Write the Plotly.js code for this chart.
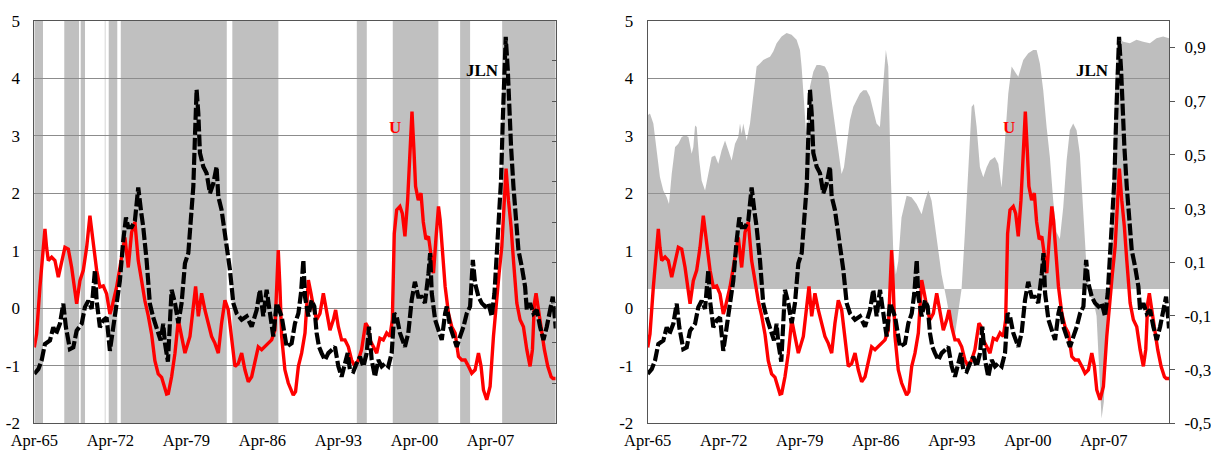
<!DOCTYPE html>
<html>
<head>
<meta charset="utf-8">
<script src="https://cdn.plot.ly/plotly-3.0.1.min.js"></script>
<style>html,body{margin:0;padding:0;background:#fff;}#chart{width:1211px;height:453px;}</style>
</head>
<body>
<div id="chart"></div>
<script>
// ---- data (decimal years; Apr-65 = 1965.25) ----
var uYears = [1965.25,1965.46,1965.77,1966.23,1966.38,1966.54,1966.85,1967.15,1967.46,1967.77,1968.07,1968.38,1968.69,1969.15,1969.45,1969.76,1970.07,1970.37,1970.68,1970.99,1971.29,1971.6,1971.91,1972.21,1972.37,1972.83,1973.13,1973.59,1973.9,1974.21,1974.51,1974.82,1975.13,1975.43,1975.74,1976.05,1976.35,1976.66,1976.97,1977.43,1977.59,1977.89,1978.2,1978.51,1978.81,1979.12,1979.58,1979.89,1980.1,1980.35,1980.65,1980.96,1981.27,1981.57,1981.88,1982.19,1982.49,1982.8,1983.11,1983.41,1983.72,1984.03,1984.34,1984.64,1984.95,1985.26,1985.56,1985.87,1986.18,1986.48,1986.79,1987.1,1987.4,1987.71,1987.86,1988.02,1988.32,1988.63,1989.09,1989.3,1989.56,1989.86,1990.17,1990.48,1990.72,1990.94,1991.24,1991.55,1991.86,1992.16,1992.47,1992.78,1992.99,1993.24,1993.54,1993.85,1994.16,1994.46,1994.77,1995.08,1995.38,1995.75,1995.94,1996.15,1996.46,1996.77,1997.07,1997.38,1997.69,1997.99,1998.21,1998.39,1998.61,1998.91,1999.13,1999.37,1999.62,1999.83,2000.02,2000.2,2000.35,2000.6,2000.85,2001.06,2001.3,2001.54,2001.78,2002.0,2002.24,2002.46,2002.61,2002.83,2003.07,2003.38,2003.68,2003.99,2004.3,2004.6,2004.91,2005.22,2005.52,2005.83,2006.14,2006.38,2006.6,2006.9,2007.21,2007.52,2007.83,2008.04,2008.29,2008.53,2008.68,2008.9,2009.14,2009.36,2009.67,2009.97,2010.28,2010.59,2010.89,2011.11,2011.29,2011.44,2011.66,2011.9,2012.21,2012.52,2012.83,2013.0,2013.25];
var uValues = [-0.68,-0.45,0.37,1.38,1.06,0.83,0.89,0.83,0.54,0.83,1.06,1.03,0.71,0.08,0.48,0.66,1.06,1.61,1.18,0.66,0.37,0.39,0.25,-0.10,0.0,0.37,0.71,1.23,0.71,1.32,1.50,0.83,0.48,0.13,-0.13,-0.45,-0.91,-1.14,-1.2,-1.49,-1.48,-1.19,-0.78,-0.20,-0.49,-0.78,-0.49,-0.03,0.38,-0.14,0.26,-0.03,-0.26,-0.49,-0.61,-0.78,-0.26,0.14,-0.03,-0.49,-1.01,-0.96,-0.78,-1.07,-1.28,-1.19,-0.96,-0.67,-0.72,-0.67,-0.61,-0.55,-0.38,1.01,0.38,-0.49,-1.07,-1.30,-1.51,-1.45,-1.01,-0.78,-0.43,0.49,0.26,0.03,-0.20,-0.09,0.26,-0.09,-0.38,-0.20,-0.03,-0.32,-0.55,-0.55,-0.67,-0.90,-1.01,-0.90,-0.72,-0.26,-0.32,-0.55,-0.67,-0.78,-0.52,-0.55,-0.43,-0.49,-0.20,1.30,1.71,1.77,1.65,1.25,1.88,2.75,3.42,2.75,2.12,1.88,2.00,1.5,1.2,1.25,0.96,0.61,1.25,1.77,1.54,0.96,0.38,-0.09,-0.32,-0.43,-0.84,-0.90,-0.90,-1.01,-1.13,-1.07,-0.78,-1.01,-1.42,-1.59,-1.36,-0.49,0.26,0.61,1.07,1.94,2.43,1.88,1.42,0.84,0.09,-0.20,-0.32,-0.72,-1.01,-0.72,0.09,0.26,-0.03,-0.38,-0.72,-1.01,-1.19,-1.22,-1.22];

var jlnYears = [1965.25,1965.62,1965.92,1966.23,1966.69,1967.0,1967.24,1967.61,1967.92,1968.16,1968.53,1968.84,1969.15,1969.61,1969.91,1970.22,1970.53,1970.83,1970.99,1971.29,1971.6,1971.91,1972.21,1972.52,1972.83,1973.13,1973.44,1973.69,1973.9,1974.21,1974.51,1974.82,1975.07,1975.28,1975.59,1975.89,1976.2,1976.51,1976.88,1977.12,1977.28,1977.55,1977.89,1978.2,1978.51,1978.81,1978.97,1979.12,1979.43,1979.58,1979.89,1980.04,1980.19,1980.35,1980.5,1980.81,1981.11,1981.42,1981.73,1982.03,1982.19,1982.49,1982.8,1982.95,1983.26,1983.57,1983.88,1984.34,1984.8,1985.26,1985.72,1986.02,1986.33,1986.64,1986.94,1987.25,1987.56,1988.02,1988.48,1988.94,1989.25,1989.56,1989.8,1990.02,1990.17,1990.48,1990.78,1991.03,1991.24,1991.46,1991.7,1992.01,1992.32,1992.62,1992.93,1993.24,1993.54,1993.85,1994.1,1994.31,1994.62,1994.92,1995.23,1995.54,1995.85,1996.06,1996.31,1996.61,1996.92,1997.23,1997.53,1997.84,1998.15,1998.39,1998.61,1998.91,1999.37,1999.68,1999.99,2000.29,2000.6,2000.91,2001.21,2001.54,2001.69,2001.84,2002.15,2002.46,2002.76,2003.07,2003.22,2003.53,2003.84,2004.14,2004.45,2004.76,2005.06,2005.37,2005.62,2005.83,2006.14,2006.44,2006.75,2007.06,2007.36,2007.61,2007.83,2008.04,2008.22,2008.38,2008.53,2008.65,2008.84,2008.96,2009.14,2009.36,2009.57,2009.82,2010.13,2010.43,2010.59,2010.89,2011.2,2011.51,2011.81,2012.12,2012.43,2012.73,2012.98,2013.19,2013.25];
var jlnValues = [-1.14,-1.06,-0.91,-0.62,-0.56,-0.33,-0.45,-0.27,0.08,-0.33,-0.71,-0.68,-0.39,-0.27,0.02,0.13,-0.01,0.66,0.13,-0.33,-0.21,-0.16,-0.74,-0.33,0.13,0.48,1.18,1.58,1.41,1.41,1.52,2.10,1.70,1.41,0.83,0.08,-0.16,-0.33,-0.56,-0.27,-0.61,-0.93,0.32,0.09,-0.26,0.09,0.55,0.78,0.96,1.36,2.12,2.99,3.80,3.39,2.70,2.46,2.35,2.00,2.17,2.46,1.94,1.71,1.30,1.19,0.67,0.09,-0.09,-0.20,-0.14,-0.32,-0.03,0.32,-0.14,0.32,-0.14,-0.49,0.09,-0.14,-0.67,-0.61,-0.26,-0.09,0.26,0.84,0.20,-0.14,0.14,0.03,-0.43,-0.67,-0.78,-0.90,-0.78,-0.72,-0.67,-1.01,-1.19,-0.96,-0.78,-1.07,-1.10,-0.96,-0.84,-1.01,-0.78,-0.32,-0.90,-1.19,-0.90,-1.01,-0.96,-1.01,-0.78,-0.09,-0.14,-0.43,-0.67,-0.43,0.14,0.46,0.20,0.20,0.09,0.61,0.96,0.26,-0.20,-0.38,-0.55,-0.09,0.03,-0.32,-0.49,-0.67,-0.49,-0.32,-0.09,0.03,0.84,0.43,0.20,0.09,0.03,0.09,-0.14,0.26,0.96,1.54,2.23,3.28,4.14,4.72,4.14,3.51,2.81,2.12,1.54,1.01,0.72,0.38,-0.03,0.09,-0.09,-0.03,-0.32,-0.55,-0.32,-0.03,0.20,-0.20,-0.35];

var probYears = [1965.25,1965.46,1965.77,1966.08,1966.38,1966.69,1967.0,1967.21,1967.46,1967.77,1968.07,1968.38,1968.69,1969.0,1969.3,1969.45,1969.61,1969.76,1970.0,1970.22,1970.53,1970.83,1971.14,1971.45,1971.75,1972.06,1972.37,1972.67,1972.98,1973.29,1973.59,1973.75,1973.9,1974.05,1974.36,1974.67,1974.97,1975.28,1975.59,1975.89,1976.2,1976.51,1976.81,1977.12,1977.58,1978.04,1978.5,1978.96,1979.27,1979.42,1979.64,1979.88,1980.19,1980.5,1980.8,1981.11,1981.57,1981.88,1982.18,1982.49,1982.8,1983.1,1983.32,1983.56,1983.87,1984.18,1984.48,1984.79,1985.1,1985.4,1985.71,1986.02,1986.32,1986.63,1986.94,1987.18,1987.4,1987.61,1987.86,1988.1,1988.32,1988.62,1989.09,1989.55,1990.01,1990.47,1990.78,1991.09,1991.39,1991.7,1992.01,1992.31,1992.77,1993.08,1993.54,1994.15,1994.46,1994.77,1995.08,1995.29,1995.54,1995.84,1996.15,1996.46,1996.76,1997.22,1997.53,1997.84,1998.14,1998.45,1998.76,1999.06,1999.37,1999.83,2000.29,2000.75,2001.06,2001.36,2001.67,2001.98,2002.28,2002.59,2002.9,2003.2,2003.51,2003.82,2004.12,2004.43,2004.74,2005.04,2005.35,2005.66,2005.96,2006.27,2006.58,2006.89,2007.04,2007.25,2007.5,2007.8,2008.05,2008.3,2008.55,2009.03,2009.65,2010.26,2010.87,2011.49,2012.1,2012.71,2013.25];
var probValues = [0.648,0.654,0.617,0.504,0.417,0.367,0.342,0.317,0.429,0.529,0.542,0.567,0.573,0.567,0.504,0.529,0.61,0.604,0.479,0.404,0.367,0.429,0.492,0.498,0.467,0.517,0.554,0.517,0.479,0.542,0.567,0.617,0.579,0.617,0.554,0.617,0.729,0.829,0.841,0.854,0.860,0.866,0.885,0.916,0.941,0.954,0.948,0.929,0.891,0.829,0.70,0.55,0.754,0.810,0.835,0.835,0.829,0.804,0.704,0.604,0.504,0.429,0.454,0.529,0.629,0.679,0.704,0.729,0.741,0.741,0.717,0.667,0.617,0.604,0.766,0.891,0.829,0.454,0.142,0.054,0.104,0.267,0.348,0.342,0.317,0.279,0.329,0.367,0.329,0.229,0.129,0.054,-0.04,-0.11,-0.17,0.0,0.212,0.46,0.679,0.69,0.604,0.454,0.417,0.454,0.479,0.492,0.467,0.379,0.554,0.729,0.829,0.810,0.791,0.854,0.879,0.891,0.891,0.841,0.741,0.604,0.492,0.329,0.212,0.187,0.304,0.479,0.592,0.617,0.592,0.504,0.304,0.079,-0.025,-0.04,-0.10,-0.357,-0.482,-0.42,-0.17,0.01,0.35,0.78,0.935,0.922,0.916,0.929,0.922,0.916,0.935,0.941,0.935];

var bandStart = [1965.25,1968.01,1969.52,1971.74,1972.10,1973.21,1983.48,1994.94,1998.25,2004.45,2008.32];
var bandEnd   = [1966.05,1969.37,1969.92,1971.80,1972.89,1982.97,1987.72,1995.86,2002.45,2005.37,2013.25];

var xTickVals = [1965.25,1972.25,1979.25,1986.25,1993.25,2000.25,2007.25];
var xTickText = ['Apr-65','Apr-72','Apr-79','Apr-86','Apr-93','Apr-00','Apr-07'];
var yTickVals = [-2,-1,0,1,2,3,4,5];
var yTickText = ['-2','-1','0','1','2','3','4','5'];
var y2TickVals = [-0.5,-0.3,-0.1,0.1,0.3,0.5,0.7,0.9];
var y2TickText = ['-0,5','-0,3','-0,1','0,1','0,3','0,5','0,7','0,9'];

// ---- styles ----
var FONT = 'Liberation Serif, Times New Roman, serif';
var GRID = '#8c8c8c';
var AXLINE = '#555555';
var BAND = '#c0c0c0';
var RED = '#ff0000';
var BLACK = '#000000';
var DASH = '12px,3px';

function lineTrace(xs, ys, xa, ya, color, width, dash) {
  return {x: xs, y: ys, xaxis: xa, yaxis: ya, type: 'scatter', mode: 'lines',
          line: {color: color, width: width, dash: dash}, hoverinfo: 'skip', showlegend: false};
}

var traces = [
  // right panel shaded area, on the right-hand scale (main axis y2)
  {x: probYears, y: probValues, xaxis: 'x2', yaxis: 'y2', type: 'scatter', mode: 'lines',
   fill: 'tozeroy', fillcolor: 'rgba(150,150,150,0.62)', line: {width: 0, color: 'rgba(0,0,0,0)'},
   hoverinfo: 'skip', showlegend: false},
  lineTrace(uYears, uValues, 'x', 'y', RED, 3.4, 'solid'),
  lineTrace(jlnYears, jlnValues, 'x', 'y', BLACK, 4.2, DASH),
  lineTrace(uYears, uValues, 'x2', 'y4', RED, 3.4, 'solid'),
  lineTrace(jlnYears, jlnValues, 'x2', 'y4', BLACK, 4.2, DASH)
];

var shapes = bandStart.map(function (s, i) {
  return {type: 'rect', xref: 'x', yref: 'y3', x0: s, x1: bandEnd[i], y0: 0, y1: 1,
          fillcolor: BAND, line: {width: 0}, layer: 'below'};
});

var xDom1 = [34.3 / 1211, 555.7 / 1211];
var xDom2 = [647.7 / 1211, 1169 / 1211];
var yDom = [1 - 423.3 / 453, 1 - 20.7 / 453];

var tickFont = {family: FONT, size: 17, color: '#000'};

function xAxis(dom, anchor) {
  return {domain: dom, anchor: anchor, range: [1965.25, 2013.25], tickmode: 'array',
          tickvals: xTickVals, ticktext: xTickText, showgrid: false, zeroline: false,
          showline: true, linecolor: AXLINE, linewidth: 1, mirror: true, ticks: '',
          tickfont: {family: FONT, size: 16.5, color: '#000'}, ticklabelstandoff: 2, fixedrange: true};
}
function leftScale(extra) {
  var a = {range: [-2, 5], tickmode: 'array', side: 'left',
          tickvals: yTickVals, ticktext: yTickText, showgrid: true, gridcolor: GRID, gridwidth: 1,
          zeroline: false, showline: true, linecolor: AXLINE, linewidth: 1, mirror: true, ticks: '',
          tickfont: tickFont, ticklabelstandoff: 10, fixedrange: true};
  for (var k in extra) a[k] = extra[k];
  return a;
}

var layout = {
  width: 1211, height: 453,
  margin: {l: 0, r: 0, t: 0, b: 0, pad: 0},
  paper_bgcolor: '#ffffff', plot_bgcolor: '#ffffff',
  showlegend: false,
  font: {family: FONT, size: 17, color: '#000'},
  xaxis: xAxis(xDom1, 'y'),
  yaxis: leftScale({domain: yDom, anchor: 'x'}),
  yaxis3: {overlaying: 'y', side: 'right', anchor: 'x', range: [0, 1], tickmode: 'linear', tick0: 0, dtick: 0.1,
           ticks: 'inside', ticklen: 4, tickcolor: AXLINE, showticklabels: false, showgrid: false,
           zeroline: false, showline: false, fixedrange: true},
  xaxis2: xAxis(xDom2, 'y2'),
  yaxis2: {domain: yDom, anchor: 'x2', side: 'right', range: [-0.5, 1.0], tickmode: 'array',
           tickvals: y2TickVals, ticktext: y2TickText, ticks: 'outside', ticklen: 5, tickcolor: AXLINE,
           showgrid: false, zeroline: false, showline: true, linecolor: AXLINE, tickfont: tickFont,
           ticklabelstandoff: 6, fixedrange: true},
  yaxis4: leftScale({overlaying: 'y2', anchor: 'x2'}),
  shapes: shapes,
  annotations: [
    {xref: 'x', yref: 'y', x: 2006.47, y: 4.14, text: '<b>JLN</b>', showarrow: false,
     font: {family: FONT, size: 17, color: BLACK}},
    {xref: 'x', yref: 'y', x: 1998.42, y: 3.14, text: '<b>U</b>', showarrow: false,
     font: {family: FONT, size: 17, color: RED}},
    {xref: 'x2', yref: 'y4', x: 2006.16, y: 4.13, text: '<b>JLN</b>', showarrow: false,
     font: {family: FONT, size: 17, color: BLACK}},
    {xref: 'x2', yref: 'y4', x: 1998.49, y: 3.14, text: '<b>U</b>', showarrow: false,
     font: {family: FONT, size: 17, color: RED}}
  ]
};

Plotly.newPlot('chart', traces, layout, {staticPlot: true, displayModeBar: false});
</script>
</body>
</html>
